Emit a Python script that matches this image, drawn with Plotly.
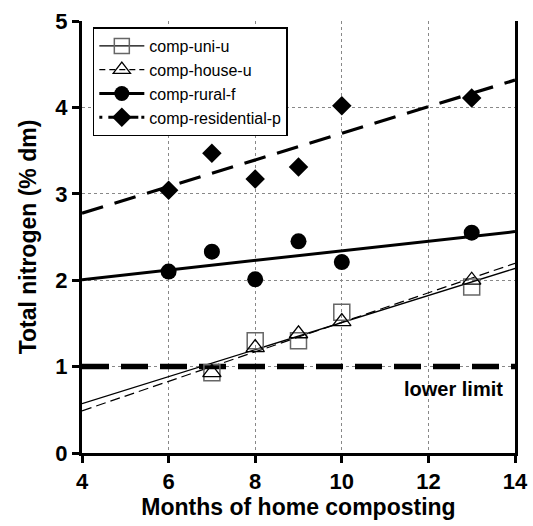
import numpy as np
import plotly.graph_objects as go

# Data
uni_x = [7, 8, 9, 10, 13]
uni_y = [0.93, 1.30, 1.30, 1.63, 1.92]
house_x = [7, 8, 9, 10, 13]
house_y = [0.93, 1.22, 1.38, 1.52, 2.00]
rural_x = [6, 7, 8, 9, 10, 13]
rural_y = [2.10, 2.33, 2.01, 2.45, 2.21, 2.55]
resid_x = [6, 7, 8, 9, 10, 13]
resid_y = [3.04, 3.47, 3.17, 3.31, 4.02, 4.11]
lower_limit = 1.0
x_range = [4, 14]
x_ticks = [4, 6, 8, 10, 12, 14]
y_ticks = [0, 1, 2, 3, 4, 5]

FONT = "Liberation Sans, Arial, sans-serif"
fig = go.Figure()

def fit_line(xs, ys):
    m, b = np.polyfit(xs, ys, 1)
    return x_range, [m * x_range[0] + b, m * x_range[1] + b]

# lower limit
fig.add_trace(go.Scatter(x=x_range, y=[lower_limit, lower_limit], mode="lines",
                         line=dict(color="black", width=5.5, dash="27px,12px"),
                         showlegend=False, hoverinfo="skip"))

# fitted lines
fx, fy = fit_line(uni_x, uni_y)
fig.add_trace(go.Scatter(x=fx, y=fy, mode="lines", line=dict(color="black", width=1.3),
                         showlegend=False))
fx, fy = fit_line(house_x, house_y)
fig.add_trace(go.Scatter(x=fx, y=fy, mode="lines", line=dict(color="black", width=1.2, dash="10px,5px"),
                         showlegend=False))
fx, fy = fit_line(rural_x, rural_y)
fig.add_trace(go.Scatter(x=fx, y=fy, mode="lines", line=dict(color="black", width=3),
                         showlegend=False))
fx, fy = fit_line(resid_x, resid_y)
fig.add_trace(go.Scatter(x=fx, y=fy, mode="lines", line=dict(color="black", width=3.2, dash="22px,12px"),
                         showlegend=False))

# markers
fig.add_trace(go.Scatter(x=uni_x, y=uni_y, mode="markers", showlegend=False,
                         marker=dict(symbol="square-open", size=16, color="#666666", line=dict(width=1.5))))
fig.add_trace(go.Scatter(x=house_x, y=house_y, mode="markers", showlegend=False,
                         marker=dict(symbol="triangle-up-open", size=16, color="black", line=dict(width=1.3))))
fig.add_trace(go.Scatter(x=rural_x, y=rural_y, mode="markers", showlegend=False,
                         marker=dict(symbol="circle", size=16, color="black")))
fig.add_trace(go.Scatter(x=resid_x, y=resid_y, mode="markers", showlegend=False,
                         marker=dict(symbol="diamond", size=15, color="black")))

# legend entries
legend_items = [
    ("comp-uni-u", dict(color="black", width=1.2), dict(symbol="square-open", size=15, color="#666666", line=dict(width=1.5))),
    ("comp-house-u", dict(color="black", width=1.2, dash="6px,4px"), dict(symbol="triangle-up-open", size=15, color="black", line=dict(width=1.3))),
    ("comp-rural-f", dict(color="black", width=3), dict(symbol="circle", size=15, color="black")),
    ("comp-residential-p", dict(color="black", width=3, dash="3px,6px,30px"), dict(symbol="diamond", size=15, color="black")),
]
for i, (nm, ln, mk) in enumerate(legend_items):
    fig.add_trace(go.Scatter(x=[None], y=[None], mode="lines+markers", name=nm,
                             line=ln, marker=mk))

fig.add_annotation(x=13.77, y=lower_limit, yshift=-22, text="<b>lower limit</b>", showarrow=False,
                   xanchor="right", font=dict(family=FONT, size=20, color="black"))

axis_common = dict(showline=True, linecolor="black", linewidth=3, ticks="outside",
                   ticklen=7, tickwidth=3, tickcolor="black",
                   tickfont=dict(family=FONT, size=22, color="black"),
                   showgrid=True, gridcolor="#888888", gridwidth=1, griddash="dot",
                   zeroline=False, automargin=False)
fig.update_xaxes(range=x_range, tickvals=x_ticks, ticktext=["<b>%d</b>" % v for v in x_ticks],
                 title=dict(text="<b>Months of home composting</b>", font=dict(family=FONT, size=23, color="black"), standoff=5),
                 **axis_common)
fig.update_yaxes(range=[0, 5], tickvals=y_ticks, ticktext=["<b>%d</b>" % v for v in y_ticks],
                 title=dict(text="<b>Total nitrogen (% dm)</b>", font=dict(family=FONT, size=23, color="black"), standoff=13),
                 mirror=True, **axis_common)

fig.update_layout(width=533, height=526, margin=dict(l=82, r=18, t=21, b=73),
                  plot_bgcolor="white", paper_bgcolor="white",
                  legend=dict(x=0.025, y=0.985, xanchor="left", yanchor="top", bgcolor="white",
                              bordercolor="black", borderwidth=1.5,
                              font=dict(family=FONT, size=16, color="black"),
                              tracegroupgap=0, itemwidth=45),
                  showlegend=True)

fig.write_html("out.html")
